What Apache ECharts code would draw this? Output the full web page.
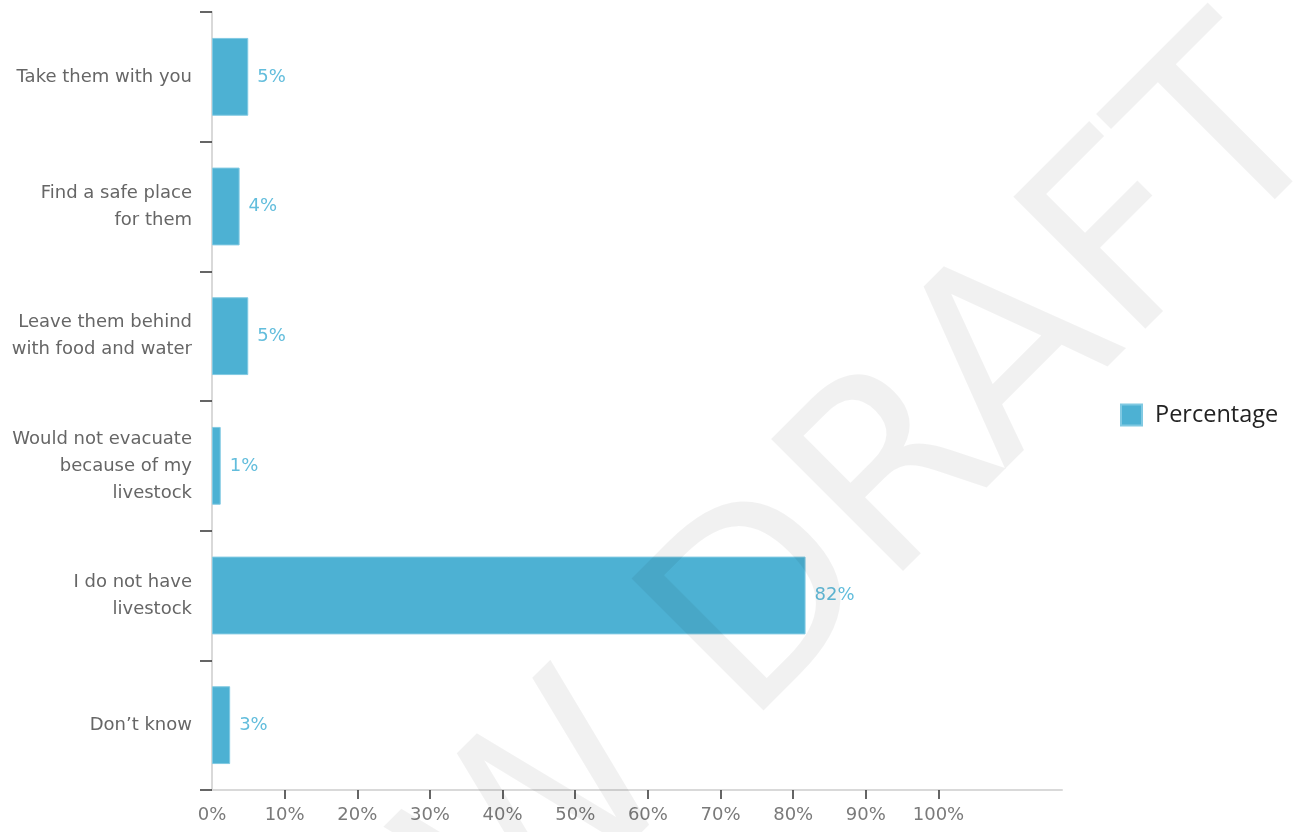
<!DOCTYPE html>
<html>
<head>
<meta charset="utf-8">
<script src="https://cdn.jsdelivr.net/npm/echarts@6/dist/echarts.min.js"></script>
<style>
html,body{margin:0;padding:0;background:#fff;}
#chart{width:1298px;height:832px;}
</style>
</head>
<body>
<div id="chart"></div>
<script>
var categories = [
  "Take them with you",
  "Find a safe place\nfor them",
  "Leave them behind\nwith food and water",
  "Would not evacuate\nbecause of my\nlivestock",
  "I do not have\nlivestock",
  "Don’t know"
];
var percentages = [4.99, 3.8, 4.99, 1.2, 81.7, 2.5];
var xTickValues = [0, 10, 20, 30, 40, 50, 60, 70, 80, 90, 100];
var seriesName = "Percentage";
var watermarkText = "PREVIEW DRAFT";

var chart = echarts.init(document.getElementById('chart'), null, {renderer: 'canvas'});
var axisFont = '"DejaVu Sans", sans-serif';
var legendFont = '"Open Sans", sans-serif';
chart.setOption({
  animation: false,
  backgroundColor: '#ffffff',
  grid: {left: 212, right: 236, top: 12, bottom: 42, containLabel: false},
  legend: {
    data: [seriesName],
    left: 1120, top: 403,
    padding: 0,
    orient: 'vertical',
    itemWidth: 21, itemHeight: 21,
    icon: 'rect',
    textStyle: {fontFamily: legendFont, fontSize: 23.5, color: '#222', padding: [0, 0, 0, 8]}
  },
  xAxis: {
    type: 'value', min: 0, max: 117, interval: 10,
    axisLine: {show: true, lineStyle: {color: '#d9d9d9', width: 2}},
    axisTick: {show: true, customValues: xTickValues.slice(1), length: 9, lineStyle: {color: '#333', width: 1.5}},
    axisLabel: {customValues: xTickValues, formatter: function (v) { return v + '%'; },
      fontFamily: axisFont, fontSize: 18, color: '#7a7a7a', margin: 16},
    splitLine: {show: false}
  },
  yAxis: {
    type: 'category', data: categories, inverse: true,
    axisLine: {show: true, lineStyle: {color: '#d9d9d9', width: 2}},
    axisTick: {show: true, length: 12, lineStyle: {color: '#333', width: 1.5}},
    axisLabel: {fontFamily: axisFont, fontSize: 18, color: '#666', margin: 20, lineHeight: 27, align: 'right'}
  },
  series: [{
    name: seriesName, type: 'bar', data: percentages,
    barCategoryGap: '40%',
    itemStyle: {color: '#4db1d3', borderColor: '#80c9e2', borderWidth: 1},
    label: {show: true, position: 'right', distance: 9,
      formatter: function (p) { return Math.round(p.value) + '%'; },
      fontFamily: axisFont, fontSize: 18, color: '#62bddc'}
  }],
  graphic: [{
    type: 'text', x: 1292, y: 88, rotation: Math.PI / 4, z: 100, silent: true,
    style: {text: watermarkText, x: 0, y: 0, align: 'right', verticalAlign: 'middle',
      font: '256px "DejaVu Sans", sans-serif', fill: 'rgba(0,0,0,0.055)'}
  }]
});
</script>
</body>
</html>
